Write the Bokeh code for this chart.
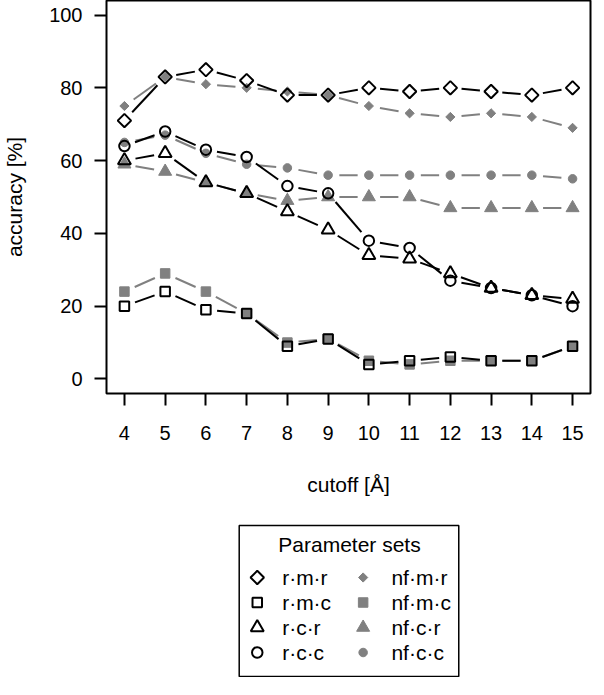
import numpy as np
from bokeh.plotting import figure
from bokeh.models import Range1d, FixedTicker, ColumnDataSource
from bokeh.layouts import column
from bokeh.core.properties import value
from bokeh.embed import file_html
from bokeh.resources import INLINE

# ---------------- data ----------------
cutoff = [4, 5, 6, 7, 8, 9, 10, 11, 12, 13, 14, 15]
r_m_r = [71, 83, 85, 82, 78, 78, 80, 79, 80, 79, 78, 80]
nf_m_r = [75, 83, 81, 80, 79, 78, 75, 73, 72, 73, 72, 69]
r_m_c = [20, 24, 19, 18, 9, 11, 4, 5, 6, 5, 5, 9]
nf_m_c = [24, 29, 24, 18, 10, 11, 5, 4, 5, 5, 5, 9]
r_c_r = [60, 62, 54, 51, 46, 41, 34, 33, 29, 25, 23, 22]
nf_c_r = [59, 57, 54, 51, 49, 50, 50, 50, 47, 47, 47, 47]
r_c_c = [64, 68, 63, 61, 53, 51, 38, 36, 27, 25, 23, 20]
nf_c_c = [65, 67, 62, 59, 58, 56, 56, 56, 56, 56, 56, 55]
x_ticks = [4, 5, 6, 7, 8, 9, 10, 11, 12, 13, 14, 15]
y_ticks = [0, 20, 40, 60, 80, 100]
legend_title = "Parameter sets"
labels_r = ["r\u00b7m\u00b7r", "r\u00b7m\u00b7c", "r\u00b7c\u00b7r", "r\u00b7c\u00b7c"]
labels_nf = ["nf\u00b7m\u00b7r", "nf\u00b7m\u00b7c", "nf\u00b7c\u00b7r", "nf\u00b7c\u00b7c"]

FONT = "Liberation Sans"
BLACK = "#000000"
GREY = "#808080"

# ---------------- main plot ----------------
W, H = 592, 506
ML, MR, MT, MB = 94, 2, 0, 113
x0, x1 = 3.56, 15.44
y0, y1 = -4, 104
fw, fh = W - ML - MR, H - MT - MB
sx, sy = fw / (x1 - x0), fh / (y1 - y0)

p = figure(width=W, height=H, output_backend="svg", toolbar_location=None,
           x_range=Range1d(x0, x1), y_range=Range1d(y0, y1),
           min_border_left=ML, min_border_right=MR, min_border_top=MT,
           min_border_bottom=MB, background_fill_color="white",
           border_fill_color="white")
p.grid.visible = False
p.outline_line_color = BLACK
p.outline_line_width = 2

for ax in (p.xaxis, p.yaxis):
    ax.axis_line_color = None
    ax.major_tick_line_color = BLACK
    ax.major_tick_line_width = 2
    ax.major_tick_in = 0
    ax.major_tick_out = 12
    ax.minor_tick_line_color = None
    ax.major_label_text_font = FONT
    ax.major_label_text_font_size = "20px"
    ax.major_label_text_color = BLACK
    ax.axis_label_text_font = FONT
    ax.axis_label_text_font_size = "21px"
    ax.axis_label_text_font_style = "normal"
    ax.axis_label_text_color = BLACK

p.xaxis.ticker = FixedTicker(ticks=x_ticks)
p.yaxis.ticker = FixedTicker(ticks=y_ticks)
p.xaxis.axis_label = "cutoff [\u00c5]"
p.yaxis.axis_label = "accuracy [%]"
p.xaxis.major_label_standoff = 20
p.xaxis.axis_label_standoff = 30
p.yaxis.major_label_standoff = 12
p.yaxis.axis_label_standoff = 20

GAP = 11.5  # px gap around points (type = "b")


def gapped_segments(xs, ys):
    xs = np.asarray(xs, float)
    ys = np.asarray(ys, float)
    out = dict(x0=[], y0=[], x1=[], y1=[])
    for i in range(len(xs) - 1):
        dxp = (xs[i + 1] - xs[i]) * sx
        dyp = (ys[i + 1] - ys[i]) * sy
        L = np.hypot(dxp, dyp)
        if L <= 2 * GAP:
            continue
        f = GAP / L
        out["x0"].append(xs[i] + (xs[i + 1] - xs[i]) * f)
        out["y0"].append(ys[i] + (ys[i + 1] - ys[i]) * f)
        out["x1"].append(xs[i + 1] - (xs[i + 1] - xs[i]) * f)
        out["y1"].append(ys[i + 1] - (ys[i + 1] - ys[i]) * f)
    return out


open_styles = [("square", 9.5, np.pi / 4), ("square", 9.5, 0), ("triangle", 13, 0), ("circle", 10.5, 0)]
fill_styles = [("square", 6.5, np.pi / 4), ("square", 9.5, 0), ("triangle", 13, 0), ("circle", 8.5, 0)]

r_series = [r_m_r, r_m_c, r_c_r, r_c_c]
nf_series = [nf_m_r, nf_m_c, nf_c_r, nf_c_c]

for ys, (mk, sz, ang) in zip(nf_series, fill_styles):
    seg = gapped_segments(cutoff, ys)
    p.segment(x0="x0", y0="y0", x1="x1", y1="y1", source=ColumnDataSource(seg),
              line_color=GREY, line_width=2)
    p.scatter(cutoff, ys, marker=mk, size=sz, angle=ang, fill_color=GREY,
              line_color=GREY, line_width=1)

for ys, (mk, sz, ang) in zip(r_series, open_styles):
    seg = gapped_segments(cutoff, ys)
    p.segment(x0="x0", y0="y0", x1="x1", y1="y1", source=ColumnDataSource(seg),
              line_color=BLACK, line_width=2)
    p.scatter(cutoff, ys, marker=mk, size=sz, angle=ang, fill_alpha=0,
              line_color=BLACK, line_width=2)

# ---------------- legend panel: ranges expressed in page pixels ----------------
LH = 171
top_px = 8 + H
lg = figure(width=W, height=LH, output_backend="svg", toolbar_location=None,
            x_range=Range1d(8 + ML, 8 + W - MR), y_range=Range1d(top_px + LH, top_px),
            x_axis_location=None, y_axis_location=None,
            min_border_left=ML, min_border_right=MR, min_border_top=0,
            min_border_bottom=0, background_fill_color="white",
            border_fill_color="white")
lg.grid.visible = False
lg.outline_line_color = None

lg.quad(left=[238], right=[463], top=[533], bottom=[684], fill_color=None,
        line_color=BLACK, line_width=1.5)
lg.text(x=[351], y=[552], text=[legend_title], text_font=value(FONT),
        text_font_size="21px", text_align="center", text_baseline="middle",
        text_color=BLACK)

row_y = [585, 610, 635, 660]
for i in range(4):
    mk, sz, ang = open_styles[i]
    lg.scatter([256.5], [row_y[i]], marker=mk, size=sz, angle=ang,
               fill_alpha=0, line_color=BLACK, line_width=2)
    mk, sz, ang = fill_styles[i]
    lg.scatter([365], [row_y[i]], marker=mk, size=sz, angle=ang,
               fill_color=GREY, line_color=GREY, line_width=1)
lg.text(x=[282] * 4, y=row_y, text=labels_r, text_font=value(FONT),
        text_font_size="21px", text_align="left", text_baseline="middle",
        text_color=BLACK)
lg.text(x=[394] * 4, y=row_y, text=labels_nf, text_font=value(FONT),
        text_font_size="21px", text_align="left", text_baseline="middle",
        text_color=BLACK)

layout = column(p, lg, spacing=0)
open("out.html", "w").write(file_html(layout, INLINE))
